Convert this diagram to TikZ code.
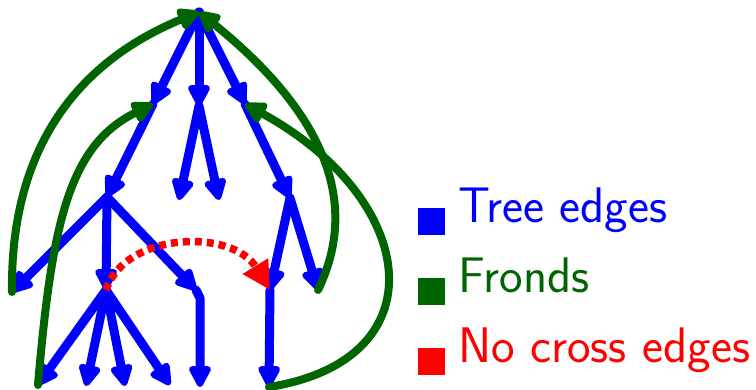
\documentclass[tikz,border=0pt]{standalone}
\usetikzlibrary{arrows.meta}
\definecolor{fgreen}{RGB}{0,100,0}
\begin{document}
\begin{tikzpicture}[x=1pt,y=-1pt,
  tree/.style={blue, line width=9pt, line cap=round, line join=round,
    -{Triangle[length=25pt,width=24pt,round]}},
  frond/.style={fgreen, line width=8pt, line cap=round,
    -{Triangle[length=25pt,width=24pt,round]}},
  cross/.style={red, line width=7.5pt, dash pattern=on 7pt off 5pt,
    -{Triangle[length=28pt,width=28pt]}},
  legtext/.style={anchor=base west, inner sep=0pt, font=\fontsize{50}{58}\selectfont\sffamily},
  legbox/.style={minimum size=27pt, inner sep=0pt, draw=none}]
\useasboundingbox (0,0) rectangle (756,389);
% nodes
\coordinate (r) at (199,12);
\coordinate (a) at (153,104);
\coordinate (m) at (199,106);
\coordinate (b) at (245,104);
\coordinate (c) at (107,197);
\coordinate (m1) at (179,200);
\coordinate (m2) at (219,200);
\coordinate (d) at (290,198);
\coordinate (e) at (12,292);
\coordinate (f) at (106,290);
\coordinate (g) at (196,290);
\coordinate (gk) at (200,298);
\coordinate (h) at (270,290);
\coordinate (i) at (318,290);
\coordinate (f1) at (38,385);
\coordinate (f2) at (86,386);
\coordinate (f3) at (125,386);
\coordinate (f4) at (170,385);
\coordinate (g1) at (200,387);
\coordinate (h1) at (269,387);
% tree edges
\draw[tree] (r) -- (a);
\draw[tree] (r) -- (m);
\draw[tree] (r) -- (b);
\draw[tree] (a) -- (c);
\draw[tree] (m) -- (m1);
\draw[tree] (m) -- (m2);
\draw[tree] (b) -- (d);
\draw[tree] (c) -- (e);
\draw[tree] (c) -- (f);
\draw[tree] (c) -- (g);
\draw[tree] (d) -- (h);
\draw[tree] (d) -- (i);
\draw[tree] (f) -- (f1);
\draw[tree] (f) -- (f2);
\draw[tree] (f) -- (f3);
\draw[tree] (f) -- (f4);
\draw[tree] (g) -- (gk) -- (g1);
\draw[tree] (h) -- (h1);
% fronds
\draw[frond] (e) .. controls (10,130) and (95,55) .. (r);
\draw[frond] (f1) .. controls (52,220) and (70,145) .. (a);
\draw[frond] (i) .. controls (352,220) and (345,130) .. (r);
\draw[frond] (h1) .. controls (440,360) and (420,200) .. (b);
% cross edge
\draw[cross] (f) .. controls (125,232) and (232,228) .. (h);
% legend
\node[legbox, fill=blue, anchor=north west] (lb1) at (418,208) {};
\node[legbox, fill=fgreen, anchor=north west] (lb2) at (418,278) {};
\node[legbox, fill=red, anchor=north west] (lb3) at (418,348) {};
\node[legtext, text=blue] (lt1) at (458,222) {Tree edges};
\node[legtext, text=fgreen] (lt2) at (458,292) {Fronds};
\node[legtext, text=red] (lt3) at (458,362) {No cross edges};
\end{tikzpicture}
\end{document}
